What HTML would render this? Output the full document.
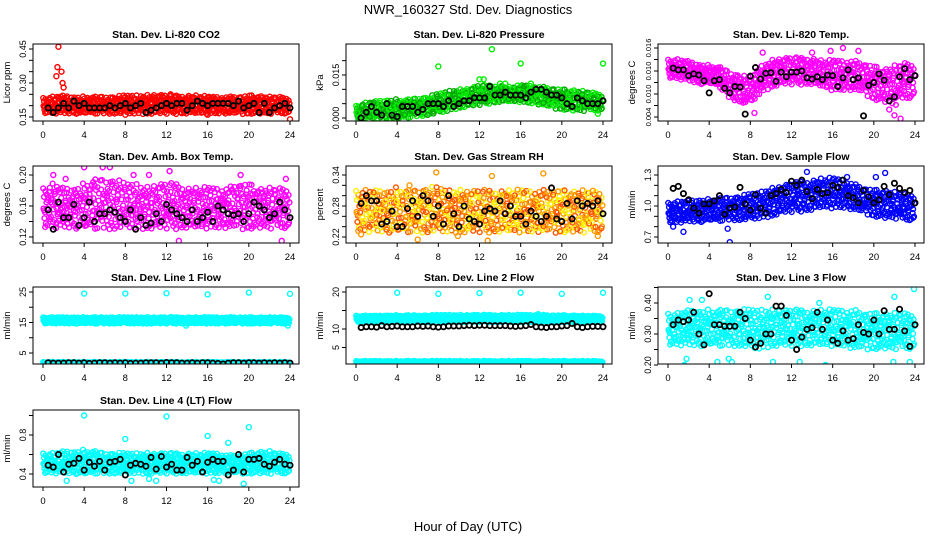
<!DOCTYPE html>
<html><head><meta charset="utf-8">
<style>
body{margin:0;background:#fff;}
svg{display:block;font-family:"Liberation Sans",Arial,sans-serif;}
</style></head>
<body>
<svg id="chart" width="936" height="540" viewBox="0 0 936 540" xmlns="http://www.w3.org/2000/svg">
<rect width="936" height="540" fill="#fff"/>
<text x="468" y="14" text-anchor="middle" font-size="13">NWR_160327  Std. Dev. Diagnostics</text>
<text x="468" y="531" text-anchor="middle" font-size="13">Hour of Day (UTC)</text>
</svg>
<script>
// ---------- data ----------
const hours = [0,1,2,3,4,5,6,7,8,9,10,11,12,13,14,15,16,17,18,19,20,21,22,23,24];
const xTicks = [0,4,8,12,16,20,24];

const co2Lo = [0.17,0.17,0.17,0.17,0.17,0.17,0.17,0.17,0.17,0.17,0.17,0.17,0.17,0.17,0.17,0.17,0.17,0.17,0.17,0.17,0.17,0.17,0.17,0.17,0.17];
const co2Hi = [0.23,0.235,0.24,0.235,0.235,0.235,0.235,0.235,0.24,0.24,0.24,0.245,0.24,0.24,0.24,0.24,0.235,0.235,0.235,0.235,0.24,0.24,0.235,0.235,0.23];
const co2OutX = [1.5,1.4,1.8,1.3,1.9,2.0,8.0,16.0,24.0,12.4,3.6,2.3];
const co2OutY = [0.46,0.37,0.35,0.33,0.30,0.28,0.16,0.16,0.14,0.25,0.17,0.18];
const co2Black = [0.19,0.17,0.19,0.21,0.19,0.22,0.20,0.21,0.19,0.19,0.19,0.19,0.20,0.19,0.20,0.21,0.19,0.20,0.21,0.17,0.18,0.19,0.20,0.21,0.20,0.21,0.21,0.18,0.20,0.22,0.21,0.20,0.21,0.21,0.21,0.21,0.20,0.22,0.19,0.20,0.21,0.17,0.21,0.17,0.19,0.20,0.21,0.19];

const presLo = [0,0,0,0,0,0.0005,0.001,0.0015,0.002,0.003,0.004,0.0045,0.005,0.0055,0.006,0.006,0.006,0.0055,0.005,0.004,0.0035,0.003,0.003,0.003,0.003];
const presHi = [0.004,0.005,0.0055,0.006,0.006,0.006,0.0065,0.007,0.008,0.009,0.0095,0.01,0.011,0.011,0.011,0.0105,0.011,0.011,0.0105,0.01,0.0095,0.0095,0.009,0.0085,0.008];
const presOutX = [8,13.2,16,24,12,12.4,14,14.5,17,23.5];
const presOutY = [0.018,0.024,0.019,0.019,0.0135,0.0135,0.012,0.012,0.012,0.0015];
const presBlack = [0,0.002,0.004,0.002,0.001,0.005,0.001,0.0005,0.004,0.004,0.004,0.002,0.003,0.005,0.005,0.005,0.004,0.006,0.004,0.005,0.006,0.006,0.007,0.007,0.007,0.011,0.008,0.008,0.009,0.008,0.008,0.008,0.007,0.009,0.010,0.010,0.009,0.008,0.008,0.007,0.005,0.004,0.007,0.006,0.005,0.005,0.005,0.006];

const tempLo = [0.011,0.0108,0.0105,0.010,0.010,0.0095,0.0075,0.007,0.0065,0.0085,0.0095,0.010,0.010,0.010,0.010,0.0095,0.009,0.009,0.009,0.0085,0.0075,0.007,0.0065,0.0075,0.008];
const tempHi = [0.0138,0.0138,0.0135,0.013,0.0128,0.0125,0.0115,0.011,0.0105,0.0125,0.0135,0.014,0.014,0.014,0.014,0.0135,0.0135,0.0135,0.0135,0.013,0.0125,0.012,0.0125,0.013,0.013];
const tempOutX = [8.4,17,18.5,9.2,21.5,22,22.6,7.3,14,15.8];
const tempOutY = [0.0047,0.016,0.0155,0.0152,0.0053,0.0043,0.0037,0.0065,0.0152,0.0155];
const tempBlack = [0.0125,0.0122,0.0122,0.0112,0.0115,0.0113,0.0103,0.0082,0.0103,0.0105,0.0090,0.0082,0.0093,0.0092,0.0045,0.0111,0.0126,0.0106,0.0116,0.0117,0.0102,0.0118,0.0110,0.0118,0.0118,0.0120,0.0108,0.0106,0.0110,0.0105,0.0113,0.0112,0.0093,0.0108,0.0122,0.0105,0.0108,0.0042,0.0095,0.0100,0.0115,0.0104,0.0068,0.0075,0.0110,0.0124,0.0105,0.0112];

const ambLo = [0.135,0.135,0.135,0.135,0.135,0.135,0.135,0.135,0.135,0.135,0.135,0.135,0.135,0.135,0.135,0.135,0.135,0.135,0.135,0.135,0.135,0.135,0.135,0.135,0.135];
const ambHi = [0.18,0.185,0.18,0.18,0.185,0.19,0.19,0.19,0.185,0.185,0.18,0.185,0.185,0.185,0.18,0.18,0.18,0.18,0.18,0.185,0.185,0.18,0.18,0.18,0.18];
const ambOutX = [4,5.8,6.5,13.2,23.2,12.3,1,8.8,10.3,2.2,19.2,23.6];
const ambOutY = [0.21,0.21,0.21,0.115,0.115,0.205,0.20,0.20,0.20,0.195,0.20,0.195];
const ambBlack = [0.155,0.13,0.165,0.145,0.145,0.162,0.135,0.145,0.165,0.14,0.15,0.15,0.155,0.152,0.145,0.14,0.155,0.13,0.145,0.135,0.138,0.15,0.14,0.162,0.155,0.15,0.145,0.14,0.155,0.14,0.145,0.152,0.14,0.16,0.155,0.15,0.148,0.15,0.14,0.15,0.165,0.16,0.155,0.145,0.15,0.165,0.155,0.145];

const rhLo = [0.235,0.235,0.235,0.235,0.235,0.235,0.235,0.235,0.235,0.235,0.235,0.235,0.235,0.235,0.235,0.235,0.235,0.235,0.235,0.235,0.235,0.235,0.235,0.235,0.235];
const rhHi = [0.305,0.305,0.305,0.305,0.31,0.305,0.305,0.31,0.31,0.305,0.305,0.305,0.305,0.305,0.305,0.305,0.305,0.305,0.305,0.305,0.305,0.305,0.305,0.305,0.305];
const rhOutX = [7.8,18.2,13.2,12.8,6,0.5,5.2,9.9,23.5];
const rhOutY = [0.345,0.343,0.338,0.213,0.215,0.225,0.32,0.222,0.222];
const rhBlack = [0.285,0.30,0.29,0.29,0.245,0.25,0.27,0.24,0.24,0.275,0.29,0.26,0.30,0.29,0.26,0.28,0.245,0.30,0.265,0.24,0.28,0.255,0.25,0.245,0.27,0.275,0.27,0.29,0.265,0.28,0.26,0.26,0.245,0.27,0.26,0.25,0.26,0.315,0.255,0.25,0.285,0.255,0.29,0.28,0.285,0.28,0.29,0.265];

const flowLo = [0.85,0.85,0.86,0.86,0.87,0.87,0.88,0.88,0.88,0.9,0.92,0.95,0.96,0.97,0.98,1.0,1.0,1.0,0.98,0.95,0.92,0.9,0.9,0.88,0.88];
const flowHi = [1.02,1.03,1.04,1.05,1.05,1.06,1.07,1.08,1.1,1.12,1.15,1.18,1.2,1.22,1.23,1.25,1.25,1.24,1.2,1.16,1.14,1.14,1.12,1.1,1.1];
const flowOutX = [1.5,6,13.5,21.1,5.8,0.5,20.2,17.4];
const flowOutY = [0.75,0.65,1.33,1.32,0.78,0.8,1.28,1.28];
const flowBlack = [1.17,1.19,1.12,1.06,0.98,0.93,1.02,1.02,1.05,1.10,0.92,0.98,0.99,1.18,1.02,0.96,1.11,0.98,0.93,1.10,1.12,1.16,1.13,1.24,1.20,1.25,1.14,1.07,1.16,1.12,1.13,1.20,1.18,1.25,1.10,1.08,1.03,1.15,1.09,1.03,1.06,1.19,1.11,1.22,1.17,1.13,1.15,1.03];

const l1Lo = [14.8,14.8,14.8,14.8,14.8,14.8,14.8,14.8,14.8,14.8,14.8,14.8,14.8,14.8,14.8,14.8,14.8,14.8,14.8,14.8,14.8,14.8,14.8,14.8,14.8];
const l1Hi = [16.6,16.6,16.6,16.6,16.6,16.6,16.6,16.6,16.6,16.6,16.6,16.6,16.6,16.6,16.6,16.6,16.6,16.6,16.6,16.6,16.6,16.6,16.6,16.6,16.6];
const l1Lo2 = [1.0,1.0,1.0,1.0,1.0,1.0,1.0,1.0,1.0,1.0,1.0,1.0,1.0,1.0,1.0,1.0,1.0,1.0,1.0,1.0,1.0,1.0,1.0,1.0,1.0];
const l1Hi2 = [2.0,2.0,2.0,2.0,2.0,2.0,2.0,2.0,2.0,2.0,2.0,2.0,2.0,2.0,2.0,2.0,2.0,2.0,2.0,2.0,2.0,2.0,2.0,2.0,2.0];
const l1OutX = [4,8,12,16,20,24,13.9,23.8];
const l1OutY = [24.5,24.5,24.6,24.2,24.8,24.4,14,14];
const l1Black = [1.8,1.7,1.7,1.7,1.8,1.8,1.7,1.8,1.6,1.7,1.8,1.8,1.7,1.8,1.7,1.8,1.6,1.7,1.7,1.8,1.8,1.8,1.7,1.9,1.8,1.8,1.7,1.7,1.8,1.7,1.8,1.8,1.7,1.6,1.4,1.7,1.8,1.8,1.7,1.8,1.8,1.7,1.8,1.7,1.8,1.7,1.8,1.7];

const l2Lo = [12.0,12.0,12.0,12.0,12.0,12.0,12.0,12.0,12.0,12.0,12.0,12.0,12.0,12.0,12.0,12.0,12.0,12.0,12.0,12.0,12.0,12.0,12.0,12.0,12.0];
const l2Hi = [13.5,13.5,13.5,13.6,13.6,13.6,13.6,13.6,13.7,13.7,13.7,13.7,13.7,13.7,13.7,13.7,13.7,13.7,13.7,13.6,13.6,13.6,13.5,13.5,13.5];
const l2Lo2 = [0.4,0.4,0.4,0.4,0.4,0.4,0.4,0.4,0.4,0.4,0.4,0.4,0.4,0.4,0.4,0.4,0.4,0.4,0.4,0.4,0.4,0.4,0.4,0.4,0.4];
const l2Hi2 = [1.3,1.3,1.3,1.3,1.3,1.3,1.3,1.3,1.3,1.3,1.3,1.3,1.3,1.3,1.3,1.3,1.3,1.3,1.3,1.3,1.3,1.3,1.3,1.3,1.3];
const l2OutX = [4,8,12,16,20,24,17.7];
const l2OutY = [19.8,19.5,19.7,19.8,19.5,19.8,14.0];
const l2Black = [10.4,10.6,10.6,10.5,10.9,10.6,10.7,10.8,10.6,10.6,10.6,10.8,10.7,10.8,10.6,10.5,10.6,10.8,10.8,10.8,10.9,11.0,10.9,11.0,11.0,10.9,10.9,10.9,10.9,10.8,10.7,10.8,10.9,11.2,10.6,10.5,10.4,10.6,10.6,10.8,10.9,11.5,10.6,10.4,10.6,10.7,10.7,10.6];

const l3Lo = [0.27,0.27,0.27,0.27,0.27,0.27,0.27,0.27,0.26,0.26,0.27,0.27,0.27,0.27,0.27,0.27,0.27,0.27,0.26,0.26,0.26,0.26,0.26,0.26,0.26];
const l3Hi = [0.36,0.36,0.37,0.37,0.37,0.37,0.37,0.37,0.37,0.37,0.37,0.37,0.37,0.37,0.37,0.37,0.37,0.37,0.37,0.36,0.36,0.36,0.36,0.36,0.36];
const l3OutX = [1.6,1.8,4.8,5.9,6.2,10.2,12.8,15.3,21.9,22.0,23.9,23.5,2.1,3.3,9.7,14.7];
const l3OutY = [0.20,0.22,0.21,0.22,0.21,0.21,0.21,0.20,0.21,0.42,0.445,0.21,0.41,0.41,0.42,0.40];
const l3Black = [0.33,0.345,0.34,0.345,0.37,0.30,0.265,0.43,0.33,0.33,0.325,0.325,0.325,0.37,0.35,0.28,0.258,0.27,0.30,0.30,0.39,0.39,0.36,0.28,0.25,0.29,0.315,0.32,0.37,0.315,0.345,0.28,0.27,0.31,0.28,0.285,0.33,0.305,0.30,0.345,0.30,0.375,0.315,0.315,0.38,0.31,0.26,0.33];

const l4Lo = [0.42,0.42,0.42,0.42,0.41,0.42,0.42,0.42,0.42,0.42,0.42,0.42,0.42,0.42,0.42,0.42,0.42,0.42,0.42,0.42,0.42,0.42,0.42,0.42,0.42];
const l4Hi = [0.60,0.60,0.62,0.62,0.63,0.62,0.60,0.60,0.60,0.60,0.60,0.60,0.60,0.60,0.60,0.60,0.60,0.60,0.58,0.58,0.60,0.62,0.62,0.60,0.60];
const l4OutX = [4,12,20,16,8,18,19.5,2.3,8.6,10.3,11,16.6,17.1];
const l4OutY = [1.0,0.99,0.88,0.79,0.76,0.72,0.30,0.33,0.33,0.35,0.33,0.34,0.33];
const l4Black = [0.49,0.47,0.6,0.42,0.5,0.51,0.56,0.44,0.52,0.48,0.53,0.44,0.52,0.53,0.55,0.39,0.49,0.51,0.5,0.48,0.57,0.45,0.58,0.47,0.5,0.44,0.44,0.57,0.49,0.53,0.42,0.52,0.55,0.53,0.53,0.39,0.44,0.6,0.42,0.55,0.55,0.56,0.5,0.48,0.52,0.55,0.5,0.49];

// ---------- panels ----------
const panels = [
 {name:'co2',title:'Stan. Dev. Li-820 CO2',yt:'Licor ppm',col:0,row:0,lo:co2Lo,hi:co2Hi,ox:co2OutX,oy:co2OutY,bk:co2Black,c:['#ff0000'],cal:[0.15,117,0.45,49],ticks:[0.15,0.2,0.25,0.3,0.35,0.4,0.45],labs:['0.15','','','0.30','','','0.45']},
 {name:'pressure',title:'Stan. Dev. Li-820 Pressure',yt:'kPa',col:1,row:0,lo:presLo,hi:presHi,ox:presOutX,oy:presOutY,bk:presBlack,c:['#00ee00','#00aa00'],cal:[0,118,0.015,75],ticks:[0,0.005,0.01,0.015,0.02],labs:['0.000','','','0.015','']},
 {name:'temp',title:'Stan. Dev. Li-820 Temp.',yt:'degrees C',col:2,row:0,lo:tempLo,hi:tempHi,ox:tempOutX,oy:tempOutY,bk:tempBlack,c:['#ff00ff'],cal:[0.004,117,0.016,48],ticks:[0.004,0.006,0.008,0.010,0.012,0.014,0.016],labs:['0.004','','0.010','','0.010','','0.016'],fs:7.5},
 {name:'amb-box-temp',title:'Stan. Dev. Amb. Box Temp.',yt:'degrees C',col:0,row:1,lo:ambLo,hi:ambHi,ox:ambOutX,oy:ambOutY,bk:ambBlack,c:['#ff00ff'],cal:[0.12,237,0.20,175],ticks:[0.12,0.14,0.16,0.18,0.20],labs:['0.12','','0.16','','0.20']},
 {name:'gas-stream-rh',title:'Stan. Dev. Gas Stream RH',yt:'percent',col:1,row:1,lo:rhLo,hi:rhHi,ox:rhOutX,oy:rhOutY,bk:rhBlack,c:['#ff9900','#ffee00','#ff5500'],cal:[0.22,237,0.34,175],ticks:[0.22,0.24,0.26,0.28,0.30,0.32,0.34],labs:['0.22','','','0.28','','','0.34']},
 {name:'sample-flow',title:'Stan. Dev. Sample Flow',yt:'ml/min',col:2,row:1,lo:flowLo,hi:flowHi,ox:flowOutX,oy:flowOutY,bk:flowBlack,c:['#0000ff'],cal:[0.7,237,1.3,175],ticks:[0.7,0.8,0.9,1.0,1.1,1.2,1.3],labs:['0.7','','','1.0','','','1.3']},
 {name:'line1-flow',title:'Stan. Dev. Line 1 Flow',yt:'ml/min',col:0,row:2,lo:l1Lo,hi:l1Hi,lo2:l1Lo2,hi2:l1Hi2,ox:l1OutX,oy:l1OutY,bk:l1Black,c:['#00ffff'],cal:[5,353,25,292],ticks:[5,10,15,20,25],labs:['5','','15','','25']},
 {name:'line2-flow',title:'Stan. Dev. Line 2 Flow',yt:'ml/min',col:1,row:2,lo:l2Lo,hi:l2Hi,lo2:l2Lo2,hi2:l2Hi2,ox:l2OutX,oy:l2OutY,bk:l2Black,c:['#00ffff'],cal:[0,366,20,292],ticks:[0,5,10,15,20],labs:['0','5','10','','20']},
 {name:'line3-flow',title:'Stan. Dev. Line 3 Flow',yt:'ml/min',col:2,row:2,lo:l3Lo,hi:l3Hi,ox:l3OutX,oy:l3OutY,bk:l3Black,c:['#00ffff'],cal:[0.2,365,0.4,303],ticks:[0.2,0.25,0.3,0.35,0.4,0.45],labs:['0.20','','0.30','','0.40','']},
 {name:'line4-flow',title:'Stan. Dev. Line 4 (LT) Flow',yt:'ml/min',col:0,row:3,lo:l4Lo,hi:l4Hi,ox:l4OutX,oy:l4OutY,bk:l4Black,c:['#00ffff'],cal:[0.4,474,0.8,435],ticks:[0.4,0.6,0.8,1.0],labs:['0.4','','0.8','']}
];

const NS='http://www.w3.org/2000/svg';
const svg=document.getElementById('chart');
const colL=[33,346,658], rowT=[44,166,287,410], BW=266, BH=77;
function mk(tag,attrs,parent){const e=document.createElementNS(NS,tag);for(const k in attrs)e.setAttribute(k,attrs[k]);(parent||svg).appendChild(e);return e;}
function interp(arr,h){const i=Math.min(23,Math.floor(h));const f=h-i;return arr[i]*(1-f)+arr[i+1]*f;}
function radInv(n,b){let f=1,r=0;while(n>0){f/=b;r+=f*(n%b);n=Math.floor(n/b);}return r;}

panels.forEach(p=>{
  const L=colL[p.col],T=rowT[p.row],B=T+BH;
  const xs=h=>L+10+h*(247/24);
  const ys=v=>p.cal[1]+(v-p.cal[0])*(p.cal[3]-p.cal[1])/(p.cal[2]-p.cal[0]);
  const g=mk('g',{});
  
  
  const t=mk('text',{x:L+BW/2,y:T-6,'text-anchor':'middle','font-size':'10.5','font-weight':'bold'},g);
  t.textContent=p.title;
  
  
  const clipId='clip-'+p.name;
  const cp=mk('clipPath',{id:clipId},g);mk('rect',{x:L,y:T,width:BW,height:BH},cp);
  const pts=mk('g',{'clip-path':'url(#'+clipId+')',fill:'none','stroke-width':'1.4'},g);
  
  
  const bands=[[p.lo,p.hi]]; if(p.lo2) bands.push([p.lo2,p.hi2]);
  bands.forEach(([lo,hi])=>{
    const N=640;
    for(let n=1;n<=N;n++){
        const h=radInv(n,2)*24;
        const a=interp(lo,h),b=interp(hi,h);
        const fr=radInv(n,3)*1.2-0.1;
        const ci=Math.floor(radInv(n,5)*p.c.length);
        const c=mk('circle',{cx:xs(h).toFixed(1),cy:ys(a+(b-a)*fr).toFixed(1),r:'2.4',stroke:p.c[ci]},pts);
        
        
    }
  });
  p.ox.forEach((hx,i)=>{const c=mk('circle',{cx:xs(hx),cy:ys(p.oy[i]),r:'2.5',stroke:p.c[0]},pts);
    
    });
  p.bk.forEach((v,i)=>{const c=mk('circle',{cx:xs(0.5+i*0.5),cy:ys(v),r:'2.6',stroke:'#000','stroke-width':'1.8'},pts);
    
    });
  const box=mk('rect',{x:L,y:T,width:BW,height:BH,fill:'none',stroke:'#000','stroke-width':'1'},g);
  
  
  const xa=mk('g',{},g);
  
  
  xTicks.forEach(h=>{mk('line',{x1:xs(h),x2:xs(h),y1:B,y2:B+4,stroke:'#000'},xa);
    const tl=mk('text',{x:xs(h),y:B+17,'text-anchor':'middle','font-size':'9.5'},xa);tl.textContent=h;});
  const ya=mk('g',{},g);
  
  
  const fs=p.fs||9;
  p.ticks.forEach((v,i)=>{const y=ys(v);if(y<T-1||y>B+1)return;
    mk('line',{x1:L-4,x2:L,y1:y,y2:y,stroke:'#000'},ya);
    if(p.labs[i]){const tl=mk('text',{x:L-7,y:y,'text-anchor':'middle','font-size':fs,transform:'rotate(-90 '+(L-7)+' '+y+')'},ya);tl.textContent=p.labs[i];}});
  const yt=mk('text',{x:L-23,y:T+BH/2,'text-anchor':'middle','font-size':'9.5',transform:'rotate(-90 '+(L-23)+' '+(T+BH/2)+')'},g);
  yt.textContent=p.yt;
  
  
});
</script>
</body></html>
